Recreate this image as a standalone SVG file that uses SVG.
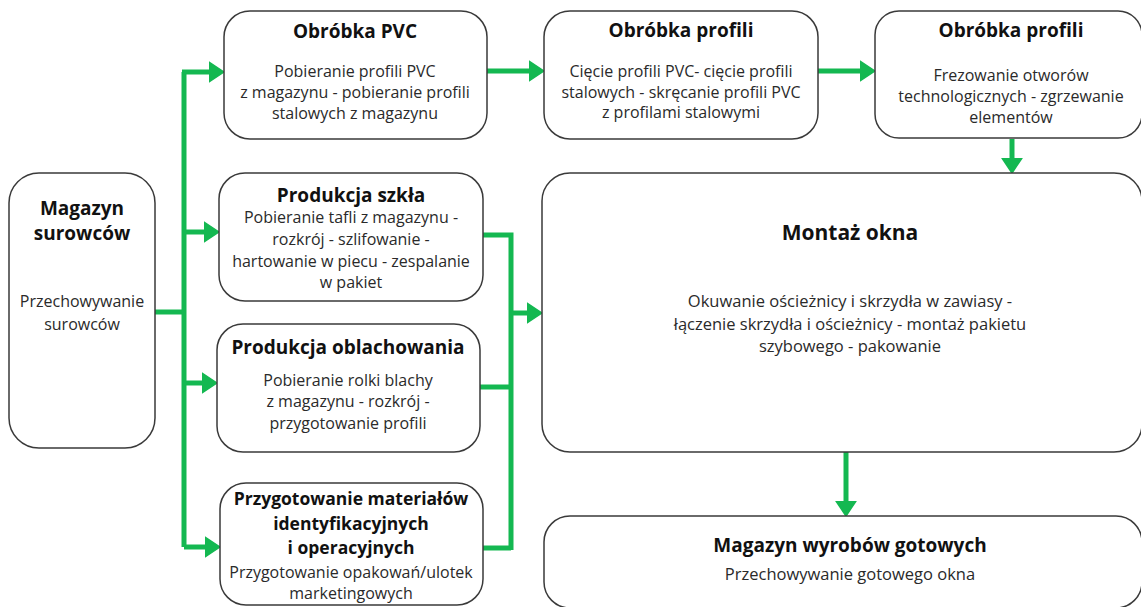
<svg xmlns="http://www.w3.org/2000/svg" width="1141" height="607" viewBox="0 0 1141 607">
<style>
.box{fill:#fff;stroke:#3a3a3a;stroke-width:1.5}
.t{font-family:"Open Sans","Noto Sans",sans-serif;font-weight:700;font-size:19px;fill:#111;text-anchor:middle}
.ts{font-size:17.5px}
.b{font-family:"Open Sans","Noto Sans",sans-serif;font-size:16px;fill:#2a2a2a;text-anchor:middle}
.bl{font-size:16.5px}
.c{fill:none;stroke:#14b851;stroke-width:5}
</style>
<defs>
<marker id="ah" markerUnits="userSpaceOnUse" markerWidth="16" markerHeight="22" viewBox="0 -11 16 22" refX="0" refY="0" orient="auto">
<path d="M0,-10 L15,0 L0,10 Z" fill="#14b851" stroke="#14b851" stroke-width="1.5" stroke-linejoin="round"/>
</marker>
</defs>
<rect width="1141" height="607" fill="#fff"/>
<g id="connectors">
<path class="c" d="M155 312 H184"/>
<path class="c" d="M184 72 V547"/>
<path class="c" d="M182 72 H209" marker-end="url(#ah)"/>
<path class="c" d="M184 232 H204" marker-end="url(#ah)"/>
<path class="c" d="M184 383 H202" marker-end="url(#ah)"/>
<path class="c" d="M184 547 H205" marker-end="url(#ah)"/>
<path class="c" d="M483 235 H511 V550"/>
<path class="c" d="M480 387 H511"/>
<path class="c" d="M483 548 H511"/>
<path class="c" d="M511 313 H527" marker-end="url(#ah)"/>
<path class="c" d="M487 71 H529" marker-end="url(#ah)"/>
<path class="c" d="M818 71 H860" marker-end="url(#ah)"/>
<path class="c" d="M1012 139 V158" marker-end="url(#ah)"/>
<path class="c" d="M846 452 V501" marker-end="url(#ah)"/>
</g>
<g id="magazyn-surowcow">
<rect class="box" x="9" y="173" width="146" height="275" rx="30"/>
<text class="t" x="82" y="215">Magazyn</text>
<text class="t" x="82" y="240">surowców</text>
<text class="b" x="82" y="307">Przechowywanie</text>
<text class="b" x="82" y="330">surowców</text>
</g>
<g id="obrobka-pvc">
<rect class="box" x="224" y="11" width="263" height="128" rx="26"/>
<text class="t" x="355" y="38">Obróbka PVC</text>
<text class="b" x="355" y="77">Pobieranie profili PVC</text>
<text class="b" x="355" y="98">z magazynu - pobieranie profili</text>
<text class="b" x="355" y="119">stalowych z magazynu</text>
</g>
<g id="produkcja-szkla">
<rect class="box" x="219" y="173" width="264" height="128" rx="26"/>
<text class="t" x="351" y="202">Produkcja szkła</text>
<text class="b" x="351" y="223">Pobieranie tafli z magazynu -</text>
<text class="b" x="351" y="245">rozkrój - szlifowanie -</text>
<text class="b" x="351" y="267">hartowanie w piecu - zespalanie</text>
<text class="b" x="351" y="288">w pakiet</text>
</g>
<g id="produkcja-oblachowania">
<rect class="box" x="217" y="324" width="263" height="128" rx="26"/>
<text class="t" x="348" y="354">Produkcja oblachowania</text>
<text class="b" x="348" y="386">Pobieranie rolki blachy</text>
<text class="b" x="348" y="407">z magazynu - rozkrój -</text>
<text class="b" x="348" y="429">przygotowanie profili</text>
</g>
<g id="przygotowanie-materialow">
<rect class="box" x="220" y="483" width="263" height="122" rx="26"/>
<text class="t ts" x="351" y="505">Przygotowanie materiałów</text>
<text class="t ts" x="351" y="530">identyfikacyjnych</text>
<text class="t ts" x="351" y="554">i operacyjnych</text>
<text class="b" x="351" y="578">Przygotowanie opakowań/ulotek</text>
<text class="b" x="351" y="599">marketingowych</text>
</g>
<g id="obrobka-profili-1">
<rect class="box" x="544" y="11" width="274" height="128" rx="26"/>
<text class="t" x="681" y="37">Obróbka profili</text>
<text class="b" x="681" y="77">Cięcie profili PVC- cięcie profili</text>
<text class="b" x="681" y="98">stalowych - skręcanie profili PVC</text>
<text class="b" x="681" y="118">z profilami stalowymi</text>
</g>
<g id="obrobka-profili-2">
<rect class="box" x="875" y="11" width="267" height="127" rx="24"/>
<text class="t" x="1011" y="37">Obróbka profili</text>
<text class="b" x="1011" y="81">Frezowanie otworów</text>
<text class="b" x="1011" y="102">technologicznych - zgrzewanie</text>
<text class="b" x="1011" y="123">elementów</text>
</g>
<g id="montaz-okna">
<rect class="box" x="542" y="173" width="600" height="279" rx="28"/>
<text class="t" x="850" y="240" style="font-size:21px">Montaż okna</text>
<text class="b bl" x="850" y="307">Okuwanie ościeżnicy i skrzydła w zawiasy -</text>
<text class="b bl" x="850" y="330">łączenie skrzydła i ościeżnicy - montaż pakietu</text>
<text class="b bl" x="850" y="352">szybowego - pakowanie</text>
</g>
<g id="magazyn-wyrobow">
<rect class="box" x="544" y="516" width="598" height="92" rx="26"/>
<text class="t" x="850" y="552">Magazyn wyrobów gotowych</text>
<text class="b bl" x="850" y="580">Przechowywanie gotowego okna</text>
</g>
</svg>
